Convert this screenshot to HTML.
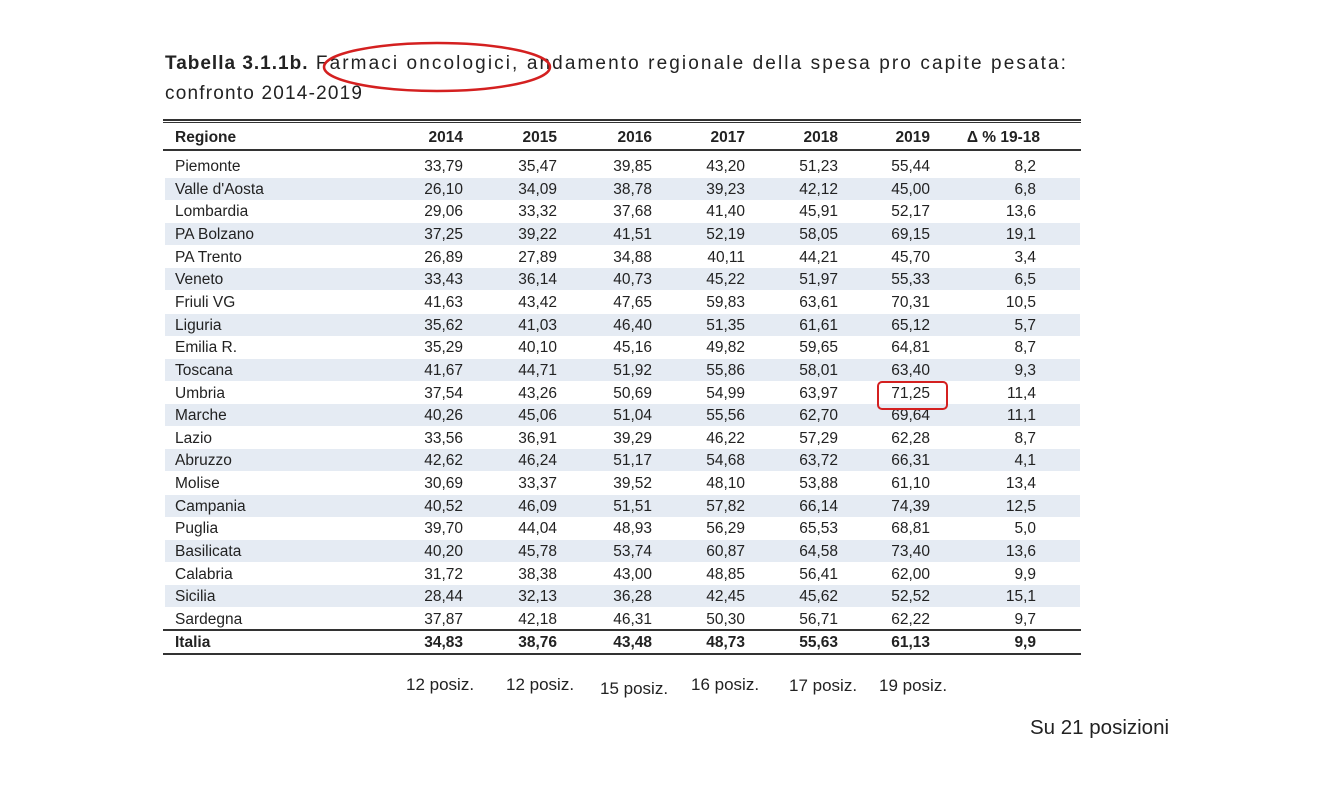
<!DOCTYPE html>
<html><head><meta charset="utf-8"><style>
body{margin:0;width:1336px;height:786px;background:#fff;position:relative;overflow:hidden;font-family:"Liberation Sans",sans-serif;color:#222}
.t{position:absolute;white-space:nowrap}
.c{position:absolute;font-size:15.5px;line-height:20px;white-space:nowrap}
.band{position:absolute;left:165px;width:915px;height:22px;background:#e5ebf3}
.ln{position:absolute;left:163px;width:918px;background:#333}
</style></head><body>
<div class="t" style="left:165px;top:53px;font-size:19px;letter-spacing:2.1px;color:#222"><b style="letter-spacing:1px">Tabella 3.1.1b.</b> Farmaci oncologici, andamento regionale della spesa pro capite pesata:</div>
<div class="t" style="left:165px;top:83px;font-size:19px;letter-spacing:1.2px">confronto 2014-2019</div>
<div id="tbl"></div>
<svg style="position:absolute;left:320px;top:40px;z-index:5" width="240" height="60"><ellipse cx="117" cy="27" rx="113" ry="24" fill="none" stroke="#d42020" stroke-width="2.5"/></svg>
<div style="position:absolute;left:877px;top:381px;width:71px;height:29px;border:2.5px solid #d42020;border-radius:5px;box-sizing:border-box;z-index:5"></div>
<div class="t" style="left:1030px;top:716px;font-size:20.5px">Su 21 posizioni</div>
<script>
const regions=["Piemonte","Valle d'Aosta","Lombardia","PA Bolzano","PA Trento","Veneto","Friuli VG","Liguria","Emilia R.","Toscana","Umbria","Marche","Lazio","Abruzzo","Molise","Campania","Puglia","Basilicata","Calabria","Sicilia","Sardegna","Italia"];
const headers=["Regione","2014","2015","2016","2017","2018","2019","Δ % 19-18"];
const v2014=["33,79","26,10","29,06","37,25","26,89","33,43","41,63","35,62","35,29","41,67","37,54","40,26","33,56","42,62","30,69","40,52","39,70","40,20","31,72","28,44","37,87","34,83"];
const v2015=["35,47","34,09","33,32","39,22","27,89","36,14","43,42","41,03","40,10","44,71","43,26","45,06","36,91","46,24","33,37","46,09","44,04","45,78","38,38","32,13","42,18","38,76"];
const v2016=["39,85","38,78","37,68","41,51","34,88","40,73","47,65","46,40","45,16","51,92","50,69","51,04","39,29","51,17","39,52","51,51","48,93","53,74","43,00","36,28","46,31","43,48"];
const v2017=["43,20","39,23","41,40","52,19","40,11","45,22","59,83","51,35","49,82","55,86","54,99","55,56","46,22","54,68","48,10","57,82","56,29","60,87","48,85","42,45","50,30","48,73"];
const v2018=["51,23","42,12","45,91","58,05","44,21","51,97","63,61","61,61","59,65","58,01","63,97","62,70","57,29","63,72","53,88","66,14","65,53","64,58","56,41","45,62","56,71","55,63"];
const v2019=["55,44","45,00","52,17","69,15","45,70","55,33","70,31","65,12","64,81","63,40","71,25","69,64","62,28","66,31","61,10","74,39","68,81","73,40","62,00","52,52","62,22","61,13"];
const delta=["8,2","6,8","13,6","19,1","3,4","6,5","10,5","5,7","8,7","9,3","11,4","11,1","8,7","4,1","13,4","12,5","5,0","13,6","9,9","15,1","9,7","9,9"];
const ranks=["12 posiz.","12 posiz.","15 posiz.","16 posiz.","17 posiz.","19 posiz."];
const cols=[v2014,v2015,v2016,v2017,v2018,v2019,delta];
const colRight=[463,557,652,745,838,930,1036];
const rankX=[406,506,600,691,789,879];
const rankY=[675,675,679,675,676,676];
const T=document.getElementById('tbl');
function add(html,style,name){const d=document.createElement('div');d.className='c';d.style.cssText=style;d.innerHTML=html;


T.appendChild(d);return d;}
function rowY(i){return i<21?167+i*22.65:643;}
for(let i=1;i<21;i+=2){const b=document.createElement('div');b.className='band';b.style.top=(rowY(i)-12)+'px';


T.appendChild(b);}
[[119,2],[122,1],[149,1.5],[629,2],[653,2]].forEach(([y,h])=>{const l=document.createElement('div');l.className='ln';l.style.top=y+'px';l.style.height=h+'px';


T.appendChild(l);});
add('<b>'+headers[0]+'</b>','left:175px;top:128px','header-regione');
for(let j=1;j<8;j++){add('<b>'+headers[j]+'</b>','right:'+(1336-colRight[j-1])+'px;top:128px'+(j==7?';right:'+(1336-1040)+'px':''),'header-'+j);}
regions.forEach((r,i)=>{const y=rowY(i)-10;const bold=i==21;
add(bold?'<b>'+r+'</b>':r,'left:175px;top:'+y+'px','region-'+i);
cols.forEach((c,j)=>{add(bold?'<b>'+c[i]+'</b>':c[i],'right:'+(1336-colRight[j])+'px;top:'+y+'px','cell-'+i+'-'+j);});});
ranks.forEach((t,i)=>{add(t,'left:'+rankX[i]+'px;top:'+rankY[i]+'px;font-size:17px','rank-'+i);});
</script>
</body></html>
